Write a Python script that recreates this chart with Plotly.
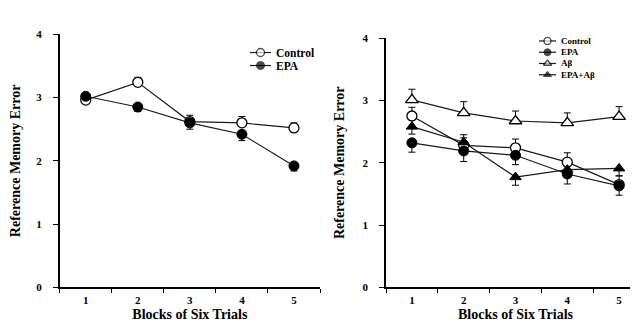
import plotly.graph_objects as go

# ---------------- data ----------------
blocks = ["1", "2", "3", "4", "5"]
y_ticks = [0, 1, 2, 3, 4]

left_control = [2.96, 3.24, 2.62, 2.60, 2.52]
left_control_err = [0.05, 0.08, 0.10, 0.10, 0.08]
left_epa = [3.02, 2.85, 2.60, 2.42, 1.92]
left_epa_err = [0.04, 0.07, 0.10, 0.10, 0.08]

right_control = [2.75, 2.28, 2.24, 2.01, 1.65]
right_control_err = [0.14, 0.12, 0.14, 0.15, 0.14]
right_epa = [2.32, 2.19, 2.12, 1.82, 1.63]
right_epa_err = [0.15, 0.17, 0.15, 0.16, 0.15]
right_abeta = [3.01, 2.80, 2.67, 2.64, 2.74]
right_abeta_err = [0.17, 0.18, 0.16, 0.16, 0.16]
right_epa_abeta = [2.58, 2.33, 1.77, 1.89, 1.91]
right_epa_abeta_err_up = [0.0, 0.12, 0.0, 0.0, 0.0]
right_epa_abeta_err_down = [0.12, 0.0, 0.13, 0.10, 0.12]
no_err = [0.0, 0.0, 0.0, 0.0, 0.0]

left_labels = ["Control", "EPA"]
right_labels = ["Control", "EPA", "Aβ", "EPA+Aβ"]

# ---------------- styles ----------------
W, H = 638, 324
FONT = "Liberation Serif"
LINE = dict(color="#1a1a1a", width=1.2)
STY = {
    "Control": dict(symbol="circle", color="white", line=dict(color="black", width=1.3)),
    "EPA": dict(symbol="circle", color="black", line=dict(color="black", width=1)),
    "Aβ": dict(symbol="triangle-up", color="white", line=dict(color="black", width=1.3)),
    "EPA+Aβ": dict(symbol="triangle-up", color="black", line=dict(color="black", width=1)),
}

fig = go.Figure()


def add_series(name, y, up, down, xa, ya, size):
    fig.add_trace(go.Scatter(
        x=blocks, y=y, mode="lines+markers", name=name, showlegend=False,
        xaxis=xa, yaxis=ya, line=LINE,
        marker=dict(size=size, **STY[name]),
        error_y=dict(type="data", symmetric=False, array=up, arrayminus=down,
                     color="black", thickness=1, width=3.5),
        cliponaxis=False,
    ))


add_series("Control", left_control, left_control_err, no_err, "x", "y", 10)
add_series("EPA", left_epa, no_err, left_epa_err, "x", "y", 10)

add_series("Aβ", right_abeta, right_abeta_err, no_err, "x2", "y2", 11)
add_series("Control", right_control, right_control_err, no_err, "x2", "y2", 10)
add_series("EPA", right_epa, no_err, right_epa_err, "x2", "y2", 10)
add_series("EPA+Aβ", right_epa_abeta, right_epa_abeta_err_up, right_epa_abeta_err_down, "x2", "y2", 10)

# ---------------- hand-drawn legends on an overlay pixel axis ----------------
annotations = []


def add_legend(labels, x0, x1, y0, step, msize, fsize):
    for i, lab in enumerate(labels):
        yy = y0 + i * step
        xm = (x0 + x1) / 2
        fig.add_trace(go.Scatter(
            x=[x0, xm, x1], y=[yy, yy, yy], mode="lines+markers", showlegend=False,
            xaxis="x3", yaxis="y3", line=LINE, hoverinfo="skip",
            marker=dict(size=[0, msize, 0], **STY[lab]),
        ))
        annotations.append(dict(
            x=(x1 + 3) / W, y=1 - yy / H, xref="paper", yref="paper",
            text=lab, showarrow=False, xanchor="left", yanchor="middle",
            font=dict(family=FONT, size=fsize, color="black", weight="bold"),
        ))


add_legend(left_labels, 242, 263, 40, 13.5, 8, 11.5)
add_legend(right_labels, 531, 548, 28, 11.7, 7, 9)

# ---------------- axes ----------------
tickfont = dict(family=FONT, size=11, color="black", weight="bold")
titlefont = dict(family=FONT, size=14, color="black", weight="bold")


def xaxis(domain, anchor):
    return dict(
        domain=domain, anchor=anchor, type="category", range=[-0.5, 4.5],
        tickson="boundaries", ticks="outside", ticklen=4, tickwidth=1.3, tickcolor="black",
        showline=True, linecolor="black", linewidth=1.5, showgrid=False, zeroline=False,
        tickfont=tickfont, ticklabelstandoff=2,
        title=dict(text="Blocks of Six Trials", font=titlefont, standoff=4),
    )


def yaxis(domain, anchor):
    return dict(
        domain=domain, anchor=anchor, range=[0, 4], tickmode="array", tickvals=y_ticks,
        ticks="outside", ticklen=5, tickwidth=1.3, tickcolor="black",
        showline=True, linecolor="black", linewidth=1.5, showgrid=False, zeroline=False,
        tickfont=tickfont, ticklabelstandoff=9,
        title=dict(text="Reference Memory Error", font=titlefont),
    )


fig.update_layout(
    width=W, height=H,
    margin=dict(l=0, r=0, t=0, b=0),
    paper_bgcolor="white", plot_bgcolor="rgba(0,0,0,0)",
    showlegend=False,
    xaxis=xaxis([51.7 / W, 312 / W], "y"),
    yaxis=yaxis([(H - 284) / H, (H - 21) / H], "x"),
    xaxis2=xaxis([378 / W, 637 / W], "y2"),
    yaxis2=yaxis([(H - 284) / H, (H - 25) / H], "x2"),
    xaxis3=dict(domain=[0, 1], anchor="y3", range=[0, W], visible=False, fixedrange=True),
    yaxis3=dict(domain=[0, 1], anchor="x3", range=[H, 0], visible=False, fixedrange=True),
    annotations=annotations,
    font=dict(family=FONT, color="black"),
)

fig.write_html("out.html")
